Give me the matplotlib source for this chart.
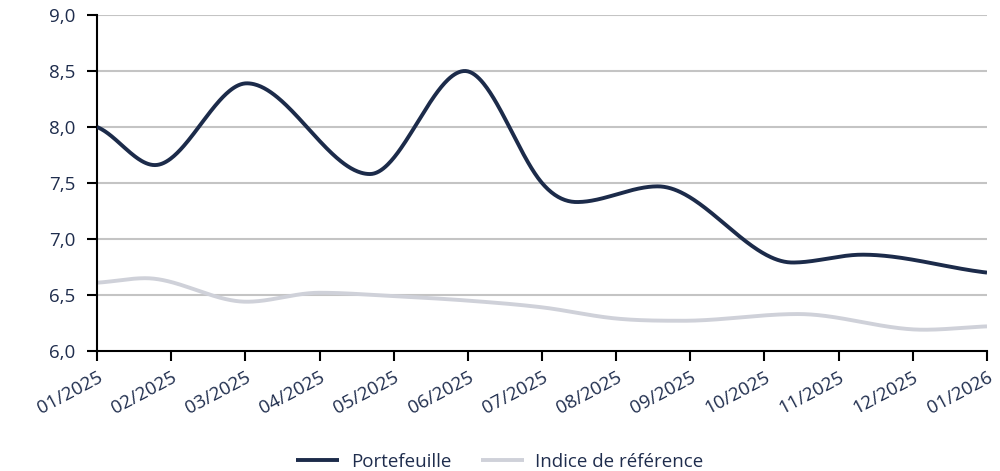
import numpy as np
import matplotlib
matplotlib.use("Agg")
import matplotlib.pyplot as plt

# ---- data (x in months since 01/2025) ----
month_labels = ["01/2025", "02/2025", "03/2025", "04/2025", "05/2025", "06/2025",
                "07/2025", "08/2025", "09/2025", "10/2025", "11/2025", "12/2025", "01/2026"]

portfolio_x = [0.0, 0.78, 2.02, 3.68, 4.96, 6.0, 6.47, 7.56, 9.38, 10.32, 12.0]
portfolio_y = [8.00, 7.66, 8.39, 7.58, 8.50, 7.50, 7.33, 7.47, 6.79, 6.86, 6.70]

bench_x = [0.0, 0.65, 2.02, 3.0, 4.0, 5.0, 6.0, 7.0, 7.9, 9.45, 11.15, 12.0]
bench_y = [6.61, 6.65, 6.44, 6.52, 6.49, 6.45, 6.39, 6.29, 6.27, 6.33, 6.19, 6.22]

y_ticks = [6.0, 6.5, 7.0, 7.5, 8.0, 8.5, 9.0]

NAVY = "#1c2b4a"
GREY_LINE = "#cfd1d9"
TEXT = "#1f2d4d"


def smooth(x, y, n=800):
    """Hermite curve through the points: flat at turning points, chord slopes elsewhere."""
    x = np.asarray(x, float)
    y = np.asarray(y, float)
    h = np.diff(x)
    d = np.diff(y) / h
    m = np.zeros_like(y)
    for k in range(1, len(x) - 1):
        if d[k - 1] * d[k] <= 0:
            m[k] = 0.0
        else:
            m[k] = (y[k + 1] - y[k - 1]) / (x[k + 1] - x[k - 1])
    m[0] = d[0] * 0.6
    m[-1] = d[-1] * 0.8
    xs = np.linspace(x[0], x[-1], n)
    idx = np.clip(np.searchsorted(x, xs) - 1, 0, len(x) - 2)
    t = (xs - x[idx]) / h[idx]
    h00 = 2 * t**3 - 3 * t**2 + 1
    h10 = t**3 - 2 * t**2 + t
    h01 = -2 * t**3 + 3 * t**2
    h11 = t**3 - t**2
    ys = h00 * y[idx] + h10 * h[idx] * m[idx] + h01 * y[idx + 1] + h11 * h[idx] * m[idx + 1]
    return xs, ys


plt.rcParams['font.family'] = ['Open Sans', 'DejaVu Sans']

fig = plt.figure(figsize=(10, 4.71), dpi=100)
ax = fig.add_axes([0.097, 1 - 351 / 471, 0.890, (351 - 15) / 471])

for yv in y_ticks[1:]:
    ax.axhline(yv, color="#c4c4c4", lw=1.5, zorder=1)

px, py = smooth(bench_x, bench_y)
ax.plot(px, py, color=GREY_LINE, lw=2.8, label="Indice de référence", zorder=2, solid_capstyle="butt")
px, py = smooth(portfolio_x, portfolio_y)
ax.plot(px, py, color=NAVY, lw=2.8, label="Portefeuille", zorder=3, solid_capstyle="butt")

ax.set_xlim(0, 12)
ax.set_ylim(6.0, 9.0)
ax.set_xticks(range(len(month_labels)))
ax.set_xticklabels(month_labels, rotation=28, ha="right", va="top", rotation_mode="anchor")
ax.set_yticks(y_ticks)
ax.set_yticklabels([f"{v:.1f}".replace(".", ",") for v in y_ticks])

for s in ["top", "right"]:
    ax.spines[s].set_visible(False)
for s in ["left", "bottom"]:
    ax.spines[s].set_color("black")
    ax.spines[s].set_linewidth(1.5)
ax.tick_params(axis="both", colors="black", length=7.5, width=1.5, labelsize=13.5,
               labelcolor=TEXT)
ax.tick_params(axis="y", pad=8)
ax.tick_params(axis="x", pad=5)

handles, labels = ax.get_legend_handles_labels()
order = [1, 0]
fig.legend([handles[i] for i in order], [labels[i] for i in order],
           loc="lower center", bbox_to_anchor=(0.5, -0.035), ncol=2, frameon=False,
           fontsize=13.5, labelcolor=TEXT, handlelength=2.3, columnspacing=1.6,
           handletextpad=0.6)

fig.savefig("out.png", dpi=100)
